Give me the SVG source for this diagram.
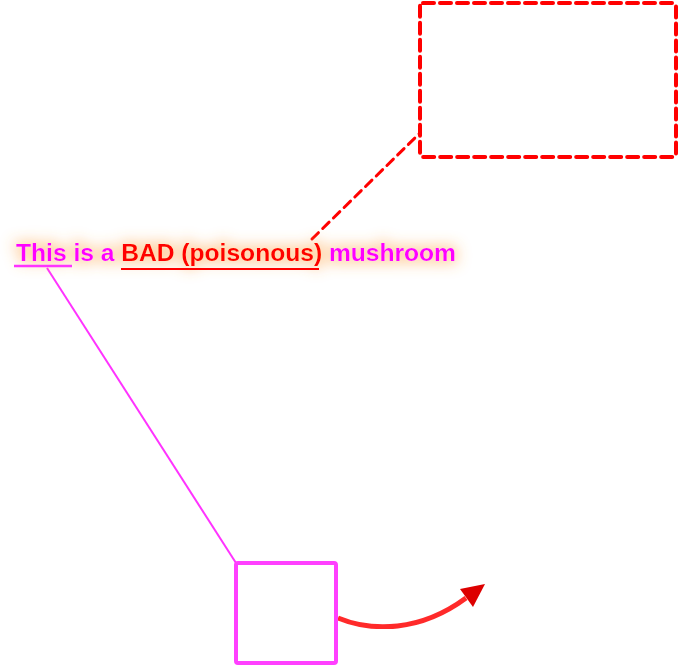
<svg xmlns="http://www.w3.org/2000/svg" width="678" height="666" viewBox="0 0 678 666">
<defs>
<style>
.lbl{font-family:"Liberation Sans",Arial,sans-serif;font-weight:bold;font-size:24.6px}
.mag{fill:#ff00ff}
.red{fill:#ff0000}
</style>
<filter id="glow" x="-10%" y="-100%" width="120%" height="300%">
<feMorphology in="SourceAlpha" operator="dilate" radius="3" result="d"/>
<feGaussianBlur in="d" stdDeviation="7" result="b"/>
<feFlood flood-color="#ffa040" flood-opacity="0.45"/>
<feComposite in2="b" operator="in" result="g"/>
<feMerge><feMergeNode in="g"/><feMergeNode in="SourceGraphic"/></feMerge>
</filter>
<filter id="soft" x="-5%" y="-5%" width="110%" height="110%">
<feGaussianBlur stdDeviation="0.6"/>
</filter>
</defs>
<rect width="678" height="666" fill="#ffffff"/>
<g id="connectors">
<line x1="47" y1="268" x2="236" y2="563" stroke="#ff33ff" stroke-width="2"/>
<line x1="312" y1="239" x2="420" y2="133" stroke="#ff0000" stroke-width="3" stroke-dasharray="9 6" stroke-linecap="round" filter="url(#soft)"/>
<path d="M338,618 C372,632 420,632 466,598" fill="none" stroke="#ff2a2a" stroke-width="5" filter="url(#soft)"/>
<path d="M460,589 L485,584 L473,607 Z" fill="#dd0000"/>
</g>
<g id="label">
<text class="lbl" x="16" y="261" filter="url(#glow)"><tspan class="mag">This is a </tspan><tspan class="red">BAD (poisonous)</tspan><tspan class="mag"> mushroom</tspan></text>
<line x1="14" y1="266" x2="72" y2="266" stroke="#ff33ff" stroke-width="2.5"/>
<line x1="121" y1="269" x2="319" y2="269" stroke="#ff0000" stroke-width="2"/>
</g>
<g id="note-box">
<rect x="420" y="3" width="256" height="154" rx="3" fill="#ffffff" stroke="#ff0000" stroke-width="4" stroke-dasharray="11 6" stroke-linecap="round" filter="url(#soft)"/>
</g>
<g id="mushroom-box">
<rect x="236" y="563" width="100" height="100" rx="2" fill="#ffffff" stroke="#ff40ff" stroke-width="4" filter="url(#soft)"/>
</g>
</svg>
